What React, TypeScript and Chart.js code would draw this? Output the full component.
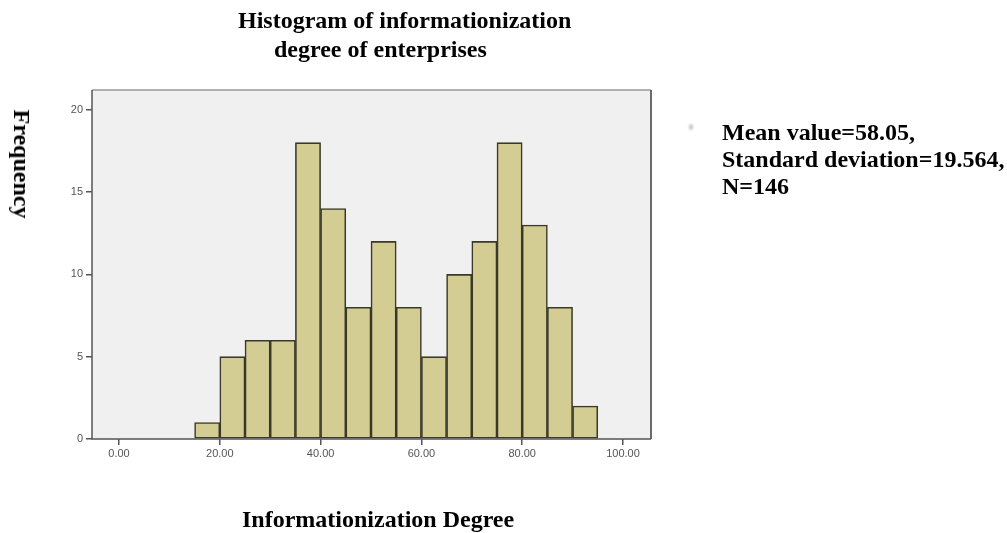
import React, { useEffect, useRef } from "react";
import { Chart, registerables } from "chart.js";

Chart.register(...registerables);

// Histogram bins (lower edge, width 5) and frequencies
const binStarts = [15, 20, 25, 30, 35, 40, 45, 50, 55, 60, 65, 70, 75, 80, 85, 90];
const frequencies = [1, 5, 6, 6, 18, 14, 8, 12, 8, 5, 10, 12, 18, 13, 8, 2];
const binWidth = 5;
const xTickValues = [0, 20, 40, 60, 80, 100];
const yTickValues = [0, 5, 10, 15, 20];

const titleLine1 = "Histogram of informationization";
const titleLine2 = "degree of enterprises";
const xAxisTitle = "Informationization Degree";
const yAxisTitle = "Frequency";
const statsLines = ["Mean value=58.05,", "Standard deviation=19.564,", "N=146"];

const serif = '"Times New Roman", "Liberation Serif", serif';

const plotDecor = {
  id: "plotDecor",
  beforeDatasetsDraw(chart: any) {
    const { ctx, chartArea: a } = chart;
    ctx.save();
    ctx.fillStyle = "#f0f0f0";
    ctx.fillRect(a.left, a.top, a.right - a.left, a.bottom - a.top);
    ctx.restore();
  },
  afterDatasetsDraw(chart: any) {
    const { ctx, chartArea: a } = chart;
    ctx.save();
    ctx.lineWidth = 1.5;
    ctx.strokeStyle = "#9a9a9a";
    ctx.beginPath();
    ctx.moveTo(a.left, a.top);
    ctx.lineTo(a.right, a.top);
    ctx.stroke();
    ctx.strokeStyle = "#6a6a6a";
    ctx.lineWidth = 2;
    ctx.beginPath();
    ctx.moveTo(a.right, a.top);
    ctx.lineTo(a.right, a.bottom);
    ctx.stroke();
    ctx.strokeStyle = "#555555";
    ctx.lineWidth = 1.5;
    ctx.beginPath();
    ctx.moveTo(a.left, a.top);
    ctx.lineTo(a.left, a.bottom);
    ctx.lineTo(a.right, a.bottom);
    ctx.stroke();
    ctx.restore();
  },
};

export default function App() {
  const canvasRef = useRef<HTMLCanvasElement>(null);

  useEffect(() => {
    if (!canvasRef.current) return;
    const data = binStarts.map((s, i) => ({ x: s + binWidth / 2, y: frequencies[i] }));
    const chart = new Chart(canvasRef.current, {
      type: "bar",
      data: {
        datasets: [
          {
            data,
            backgroundColor: "#d3cd94",
            borderColor: "#3a3928",
            borderWidth: 1.6,
            barPercentage: 1,
            categoryPercentage: 1,
            borderSkipped: false,
          } as any,
        ],
      },
      options: {
        animation: false,
        responsive: false,
        maintainAspectRatio: false,
        layout: { padding: { left: 0, right: 356, top: 90, bottom: 54 } },
        plugins: { legend: { display: false }, tooltip: { enabled: false }, title: { display: false } },
        scales: {
          x: {
            type: "linear",
            min: -5.36,
            max: 105.56,
            offset: false,
            afterBuildTicks: (scale: any) => {
              scale.ticks = xTickValues.map((v) => ({ value: v }));
            },
            afterFit: (scale: any) => {
              scale.height = 40;
            },
            grid: {
              display: true,
              offset: false,
              drawOnChartArea: false,
              drawTicks: true,
              tickLength: 6,
              color: "#555",
              lineWidth: 1.5,
            },
            border: { display: false },
            ticks: {
              padding: 2,
              color: "#555",
              font: { family: '"Liberation Sans", Arial, sans-serif', size: 11 },
              callback: (v: any) => Number(v).toFixed(2),
            },
          },
          y: {
            type: "linear",
            min: 0,
            max: 21.2,
            afterBuildTicks: (scale: any) => {
              scale.ticks = yTickValues.map((v) => ({ value: v }));
            },
            afterFit: (scale: any) => {
              scale.width = 92;
            },
            grid: { display: true, drawOnChartArea: false, drawTicks: true, tickLength: 6, color: "#555", lineWidth: 1.5 },
            border: { display: false },
            ticks: {
              padding: 3,
              color: "#555",
              font: { family: '"Liberation Sans", Arial, sans-serif', size: 11 },
            },
          },
        },
      },
      plugins: [plotDecor],
    });
    return () => chart.destroy();
  }, []);

  const textBase: React.CSSProperties = {
    position: "absolute",
    fontFamily: serif,
    fontWeight: "bold",
    fontSize: 24,
    lineHeight: "28px",
    color: "#000",
    whiteSpace: "nowrap",
  };

  return (
    <div style={{ position: "fixed", left: 0, top: 0, width: 1007, height: 533, background: "#fff", overflow: "hidden" }}>
      <canvas ref={canvasRef} width={1007} height={533} style={{ position: "absolute", left: 0, top: 0, width: 1007, height: 533 }} />
      <div style={{ ...textBase, left: 238, top: 6 }}>{titleLine1}</div>
      <div style={{ ...textBase, left: 274, top: 35 }}>{titleLine2}</div>
      <div style={{ ...textBase, left: 242, top: 505 }}>{xAxisTitle}</div>
      <div
        style={{
          ...textBase,
          left: 22,
          top: 164,
          transform: "translate(-50%, -50%) rotate(90deg)",
        }}
      >
        {yAxisTitle}
      </div>
      <div style={{ position: "absolute", left: 689, top: 124, width: 4, height: 6, background: "#c8c8c8", borderRadius: 2, filter: "blur(0.8px)" }} />
      <div style={{ ...textBase, left: 722, top: 119, lineHeight: "27px" }}>
        {statsLines.map((l, i) => (
          <div key={i}>{l}</div>
        ))}
      </div>
    </div>
  );
}
